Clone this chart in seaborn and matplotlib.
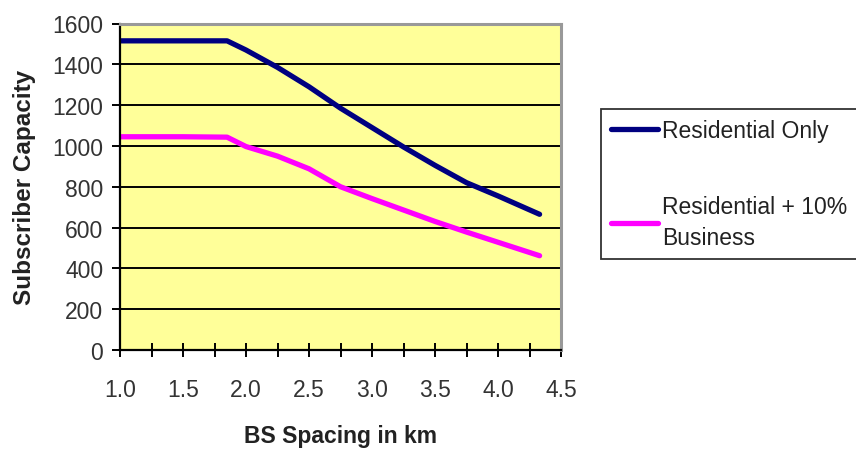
import matplotlib
matplotlib.use("Agg")
import matplotlib.pyplot as plt
import seaborn as sns
import pandas as pd
from matplotlib.ticker import MultipleLocator, FormatStrFormatter

sns.set_theme(style="white")
plt.rcParams['font.family'] = ['Liberation Sans', 'DejaVu Sans']

spacing_km = [1.0, 1.5, 1.85, 2.0, 2.25, 2.5, 2.75, 3.0, 3.25, 3.5, 3.75, 4.0, 4.33]
residential_only = [1515, 1515, 1515, 1470, 1385, 1290, 1185, 1090, 995, 905, 820, 755, 665]
residential_business = [1045, 1045, 1043, 997, 950, 888, 800, 742, 686, 630, 578, 528, 462]
series_names = ["Residential Only", "Residential + 10%\nBusiness"]
colors = ["#000080", "#FF00FF"]

df = pd.DataFrame({
    "x": spacing_km * 2,
    "y": residential_only + residential_business,
    "series": [series_names[0]] * len(spacing_km) + [series_names[1]] * len(spacing_km),
})

FS = 16.5

fig = plt.figure(figsize=(8.56, 4.52), dpi=100)
ax = fig.add_axes([120/856, 1 - 351/452, (561-120)/856, (351-24.5)/452])
ax.set_facecolor("#FFFF99")

sns.lineplot(data=df, x="x", y="y", hue="series", palette=colors, ax=ax,
             linewidth=3.8, legend=True, solid_capstyle="round")

ax.set_xlim(1.0, 4.5)
ax.set_ylim(0, 1600)
ax.xaxis.set_major_locator(MultipleLocator(0.5))
ax.xaxis.set_minor_locator(MultipleLocator(0.25))
ax.xaxis.set_major_formatter(FormatStrFormatter("%.1f"))
ax.yaxis.set_major_locator(MultipleLocator(200))

ax.grid(True, axis="y", color="black", linewidth=1.4)
ax.grid(False, axis="x")
ax.set_axisbelow(True)

for s in ["left", "bottom"]:
    ax.spines[s].set_color("black")
    ax.spines[s].set_linewidth(1.6)
for s in ["top", "right"]:
    ax.spines[s].set_color("#999999")
    ax.spines[s].set_linewidth(2.2)

ax.tick_params(axis="x", which="both", direction="inout", length=10, width=1.4,
               colors="black", labelsize=FS, pad=15, bottom=True)
ax.tick_params(axis="x", which="major", labelcolor="#333333")
ax.tick_params(axis="y", which="major", direction="out", length=6, width=1.4,
               colors="black", labelsize=FS, pad=6, left=True)
ax.tick_params(axis="y", labelcolor="#333333")

ax.set_xlabel("BS Spacing in km", fontsize=FS, fontweight="bold", color="#222222", labelpad=17)
ax.set_ylabel("Subscriber Capacity", fontsize=17.5, fontweight="bold", color="#222222", labelpad=12)

handles, labels = ax.get_legend_handles_labels()
leg = ax.legend(handles, labels, loc="upper left", mode="expand",
                bbox_to_anchor=(601/856, 1 - 265/452, 320/856, 155/452),
                bbox_transform=fig.transFigure,
                frameon=True, fancybox=False, edgecolor="black", fontsize=FS,
                handlelength=2.05, handletextpad=0.15, labelspacing=2.3,
                borderpad=0.45, borderaxespad=0)
leg.get_frame().set_linewidth(1.3)
for t in leg.get_texts():
    t.set_color("#222222")
    t.set_linespacing(1.45)

fig.savefig("out.png", dpi=100)
